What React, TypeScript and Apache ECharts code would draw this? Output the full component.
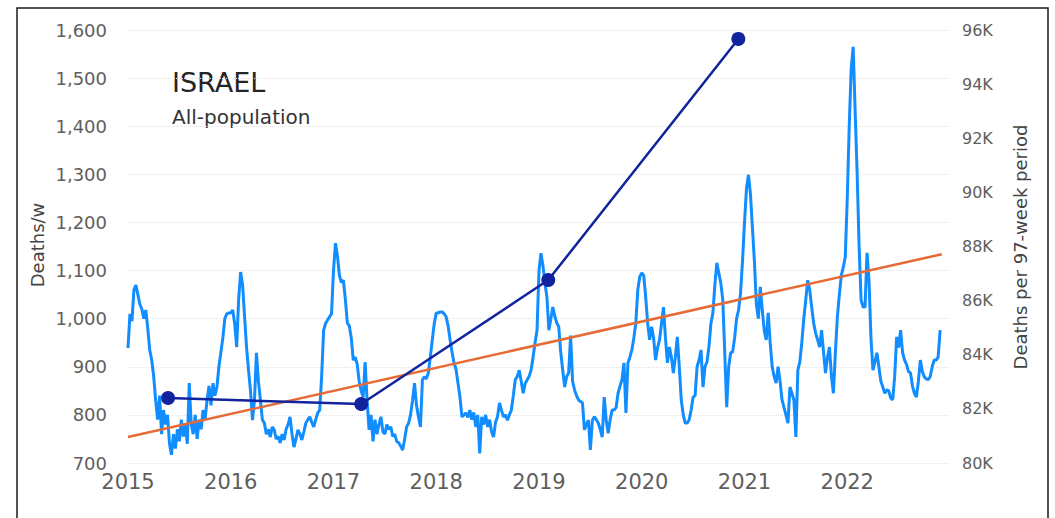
import React, { useEffect, useRef } from "react";
import * as echarts from "echarts";

// Weekly deaths (Deaths/w), one array per year
const deaths2015 = [939, 1010, 995, 1060, 1070, 1050, 1030, 1020, 1000, 1018, 980, 935, 914, 880, 830, 790, 840, 760, 810, 780, 800, 740, 717, 760, 730, 770, 745, 790, 755, 780, 740, 866, 780, 760, 800, 750, 790, 770, 810, 790, 830, 860, 820, 866, 840, 858, 900, 930, 960, 1000, 1010, 1012];
const deaths2016 = [1012, 1018, 990, 941, 1040, 1097, 1070, 1004, 940, 893, 850, 789, 830, 929, 870, 831, 790, 783, 760, 770, 754, 775, 769, 750, 755, 742, 760, 748, 770, 780, 796, 760, 733, 750, 769, 760, 748, 765, 783, 790, 796, 785, 775, 790, 804, 810, 880, 976, 990, 997, 1004, 1010];
const deaths2017 = [1100, 1157, 1130, 1090, 1075, 1080, 1040, 991, 985, 960, 914, 920, 905, 870, 850, 837, 910, 831, 769, 800, 745, 790, 760, 780, 796, 765, 760, 780, 770, 775, 755, 760, 745, 742, 735, 727, 750, 775, 783, 800, 830, 866, 820, 796, 775, 873, 879, 875, 887, 920, 956, 990];
const deaths2018 = [1012, 1012, 1014, 1014, 1010, 1004, 985, 956, 930, 908, 895, 866, 837, 796, 800, 804, 795, 810, 790, 805, 775, 800, 720, 796, 780, 800, 775, 790, 765, 754, 785, 796, 825, 810, 796, 800, 789, 800, 810, 840, 873, 880, 893, 870, 845, 865, 873, 880, 893, 920, 950, 976];
const deaths2019 = [1100, 1136, 1110, 1074, 1045, 976, 1000, 1024, 1005, 991, 983, 930, 893, 858, 880, 887, 965, 870, 852, 840, 831, 828, 825, 769, 780, 789, 727, 789, 796, 790, 783, 770, 754, 837, 790, 762, 790, 810, 810, 815, 845, 860, 873, 908, 804, 908, 920, 935, 960, 991, 1060, 1087];
const deaths2020 = [1095, 1090, 1045, 990, 956, 983, 960, 914, 940, 956, 990, 1024, 960, 908, 941, 920, 887, 920, 962, 900, 831, 800, 783, 783, 790, 810, 837, 840, 900, 914, 935, 858, 900, 910, 941, 990, 1012, 1070, 1116, 1095, 1074, 1040, 930, 816, 900, 929, 931, 960, 1000, 1018, 1053, 1120];
const deaths2021 = [1200, 1270, 1299, 1260, 1190, 1120, 1030, 1000, 1066, 1018, 975, 956, 1012, 950, 900, 880, 866, 900, 870, 831, 815, 800, 783, 858, 845, 831, 754, 893, 910, 950, 1000, 1039, 1080, 1060, 1024, 991, 970, 956, 941, 976, 930, 887, 920, 941, 880, 845, 930, 1004, 1050, 1090, 1107, 1128];
const deaths2022 = [1250, 1400, 1520, 1565, 1430, 1303, 1150, 1039, 1024, 1024, 1137, 1080, 960, 893, 910, 929, 900, 870, 858, 845, 852, 850, 835, 831, 880, 962, 940, 976, 930, 914, 905, 890, 887, 860, 845, 837, 870, 914, 890, 879, 875, 873, 880, 900, 914, 914, 920, 976];

const startYear = 2015;
const weeksPerYear = 52;

// Linear trend (Deaths/w) at start and end
const trendYears = [2015, 2022.92];
const trendValues = [754, 1134];

// Deaths per 97-week period (right axis)
const periodYears = [2015.39, 2017.27, 2019.09, 2020.94];
const periodValues = [82400, 82180, 86760, 95670];

// Axis ticks
const yearTicks = [2015, 2016, 2017, 2018, 2019, 2020, 2021, 2022];
const leftMin = 700, leftMax = 1600, leftStep = 100;
const rightMin = 80000, rightMax = 96000, rightStep = 2000;

const FONT = "DejaVu Sans";

export default function App() {
  const ref = useRef<HTMLDivElement>(null);
  useEffect(() => {
    if (!ref.current) return;
    const chart = echarts.init(ref.current, undefined, { renderer: "svg" });
    const weekly = [
      ...deaths2015, ...deaths2016, ...deaths2017, ...deaths2018,
      ...deaths2019, ...deaths2020, ...deaths2021, ...deaths2022,
    ];
    const weeklyData = weekly.map((v, i) => [startYear + i / weeksPerYear, v]);
    const trendData = trendYears.map((y, i) => [y, trendValues[i]]);
    const periodData = periodYears.map((y, i) => [y, periodValues[i]]);

    chart.setOption({
      animation: false,
      backgroundColor: "#ffffff",
      grid: { left: 128, right: 105, top: 30, bottom: 55 },
      xAxis: {
        type: "value",
        min: 2015,
        max: 2023,
        interval: 1,
        axisLine: { show: false },
        axisTick: { show: false },
        splitLine: { show: false },
        axisLabel: {
          margin: 8,
          fontFamily: FONT,
          fontSize: 21,
          color: "#605E5C",
          formatter: (v: number) => (yearTicks.includes(v) ? String(v) : ""),
        },
      },
      yAxis: [
        {
          type: "value",
          min: leftMin,
          max: leftMax,
          interval: leftStep,
          axisLine: { show: false },
          axisTick: { show: false },
          splitLine: { lineStyle: { color: "#E3E3E3", type: "dotted", width: 1 } },
          axisLabel: {
            margin: 21,
            fontFamily: FONT,
            fontSize: 18,
            color: "#605E5C",
            formatter: (v: number) => v.toLocaleString("en-US"),
          },
        },
        {
          type: "value",
          min: rightMin,
          max: rightMax,
          interval: rightStep,
          position: "right",
          axisLine: { show: false },
          axisTick: { show: false },
          splitLine: { show: false },
          axisLabel: {
            margin: 12,
            fontFamily: FONT,
            fontSize: 16,
            color: "#605E5C",
            formatter: (v: number) => v / 1000 + "K",
          },
        },
      ],
      series: [
        {
          type: "line",
          data: weeklyData,
          showSymbol: false,
          lineStyle: { color: "#118DFF", width: 3 },
          itemStyle: { color: "#118DFF" },
          z: 2,
        },
        {
          type: "line",
          data: trendData,
          showSymbol: false,
          lineStyle: { color: "#E66C37", width: 2.5 },
          itemStyle: { color: "#E66C37" },
          z: 3,
        },
        {
          type: "line",
          yAxisIndex: 1,
          data: periodData,
          symbol: "circle",
          symbolSize: 14,
          lineStyle: { color: "#12239E", width: 2.5 },
          itemStyle: { color: "#12239E" },
          z: 4,
        },
      ],
      graphic: [
        {
          type: "rect",
          shape: { x: 17, y: 8, width: 1031, height: 530 },
          style: { fill: "none", stroke: "#1a1a1a", lineWidth: 1.5 },
          silent: true,
        },
        {
          type: "text",
          x: 172,
          y: 82,
          style: {
            text: "ISRAEL",
            font: `27px "${FONT}"`,
            fill: "#252423",
            verticalAlign: "middle",
          },
        },
        {
          type: "text",
          x: 172,
          y: 117,
          style: {
            text: "All-population",
            font: `20px "${FONT}"`,
            fill: "#333333",
            verticalAlign: "middle",
          },
        },
        {
          type: "text",
          x: 37,
          y: 245,
          rotation: Math.PI / 2,
          style: {
            text: "Deaths/w",
            font: `18px "${FONT}"`,
            fill: "#444444",
            align: "center",
            verticalAlign: "middle",
          },
        },
        {
          type: "text",
          x: 1020,
          y: 247,
          rotation: Math.PI / 2,
          style: {
            text: "Deaths per 97-week period",
            font: `18px "${FONT}"`,
            fill: "#444444",
            align: "center",
            verticalAlign: "middle",
          },
        },
      ],
    });
    return () => chart.dispose();
  }, []);
  return (
    <div
      ref={ref}
      style={{ position: "fixed", left: 0, top: 0, width: 1055, height: 518 }}
    />
  );
}
